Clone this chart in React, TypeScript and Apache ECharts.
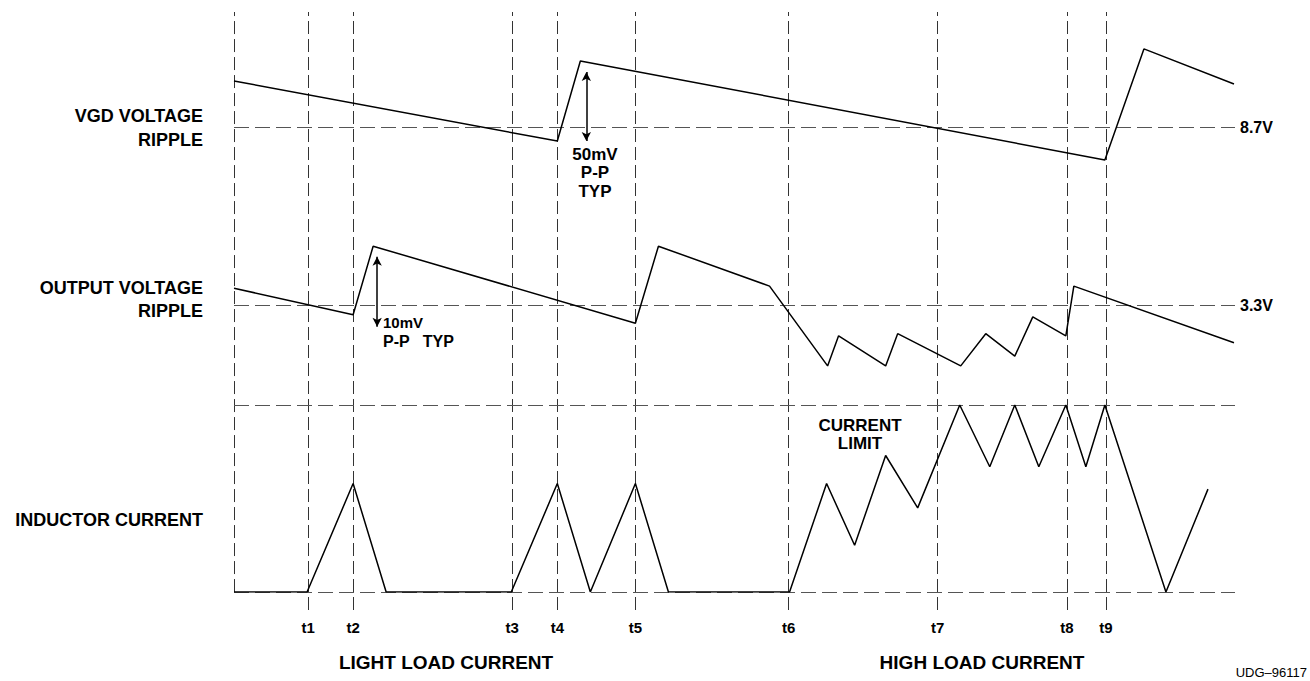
import React, { useEffect, useRef } from "react";
import * as echarts from "echarts";

// time axis in arbitrary units (0 .. 1000)
const tMarks = [74, 119, 278, 323, 401, 554, 703, 832, 871];
const tLabels = ["t1", "t2", "t3", "t4", "t5", "t6", "t7", "t8", "t9"];

// VGD ripple, mV around 8.7 V
const vgdTime = [0, 323, 346, 870, 909, 999];
const vgdRipple = [28.8, -8.8, 41.3, -20.6, 48.8, 26.9];

// Output ripple, mV around 3.3 V
const outTime = [0, 119, 139, 401, 424, 535, 593, 604, 651, 663, 726, 751, 780, 798, 831, 839, 999];
const outRipple = [2.4, -1.4, 8.4, -2.6, 8.4, 2.7, -8.7, -4.4, -8.7, -4.1, -8.7, -4.1, -7.3, -1.7, -4.4, 2.7, -5.4];

// Inductor current, A (current limit = 10)
const indTime = [0, 73, 119, 152, 277, 323, 356, 401, 434, 555, 592, 620, 651, 683, 725, 755, 780, 804, 831, 851, 870, 931, 973];
const indCurrent = [0, 0, 5.8, 0, 0, 5.8, 0, 5.8, 0, 0, 5.8, 2.5, 7.3, 4.5, 10, 6.7, 10, 6.7, 10, 6.7, 10, 0, 5.5];
const currentLimit = 10;

const vgdRefLabel = "8.7V";
const outRefLabel = "3.3V";
const vgdArrow = { t: 352, from: 34.4, to: -8.8 };
const outArrow = { t: 143, from: 6.9, to: -3.1 };

const FONT = '"Liberation Sans", Arial, Helvetica, sans-serif';

function pairs(xs: number[], ys: number[]) {
  return xs.map((x, i) => [x, ys[i]]);
}

export default function App() {
  const ref = useRef<HTMLDivElement>(null);
  useEffect(() => {
    if (!ref.current) return;
    const chart = echarts.init(ref.current, undefined, { renderer: "svg" });
    const hDash = { type: [15, 6] as any, color: "#555", width: 1 };
    const vDash = { type: [13, 5] as any, color: "#333", width: 1 };
    const wave = { color: "#000", width: 1.5 };
    const txt = (text: string, x: number, y: number, size: number, align = "left", weight = "bold") => ({
      type: "text",
      x,
      y,
      silent: true,
      style: {
        text,
        fill: "#000",
        fontSize: size,
        fontWeight: weight,
        fontFamily: FONT,
        align,
        verticalAlign: "middle",
      },
    });
    const arrowLine = (a: { t: number; from: number; to: number }) => [
      { coord: [a.t, a.from], symbol: "arrow", symbolSize: [7, 9], lineStyle: { type: "solid", color: "#000", width: 1.5 } },
      { coord: [a.t, a.to], symbol: "arrow", symbolSize: [7, 9] },
    ];
    const option: any = {
      animation: false,
      grid: [
        { left: 234, width: 1001, top: 31, height: 160 },
        { left: 234, width: 1001, top: 235, height: 140 },
        { left: 234, width: 1001, top: 405, height: 187 },
        { left: 234, width: 1001, top: 12, height: 598 },
      ],
      xAxis: [0, 1, 2, 3].map((g) => ({
        type: "value",
        gridIndex: g,
        min: 0,
        max: 1000,
        show: g === 3,
        axisLine: { show: false },
        axisTick: { show: false },
        splitLine: { show: false },
        axisLabel: {
          show: g === 3,
          customValues: tMarks,
          formatter: (v: number) => tLabels[tMarks.indexOf(v)] ?? "",
          margin: 10,
          fontSize: 15,
          fontWeight: "bold",
          fontFamily: FONT,
          color: "#000",
        },
      })),
      yAxis: [
        { type: "value", gridIndex: 0, min: -40, max: 60, show: false },
        { type: "value", gridIndex: 1, min: -10, max: 10, show: false },
        { type: "value", gridIndex: 2, min: 0, max: currentLimit, show: false },
        { type: "value", gridIndex: 3, min: 0, max: 100, show: false },
      ].map((y) => ({ ...y, splitLine: { show: false } })),
      series: [
        {
          type: "line",
          xAxisIndex: 3,
          yAxisIndex: 3,
          data: [[0, 0]],
          showSymbol: false,
          lineStyle: { opacity: 0 },
          z: 1,
          markLine: {
            silent: true,
            symbol: "none",
            label: { show: false },
            lineStyle: vDash,
            data: [
              ...tMarks.map((t) => ({ xAxis: t })),
              [{ coord: [0, 3] }, { coord: [0, 100] }],
            ],
          },
        },
        {
          name: "VGD VOLTAGE RIPPLE",
          type: "line",
          xAxisIndex: 0,
          yAxisIndex: 0,
          data: pairs(vgdTime, vgdRipple),
          showSymbol: false,
          lineStyle: wave,
          z: 5,
          markLine: {
            silent: true,
            symbol: "none",
            label: { show: false },
            lineStyle: hDash,
            data: [{ yAxis: 0 }, arrowLine(vgdArrow)],
          },
        },
        {
          name: "OUTPUT VOLTAGE RIPPLE",
          type: "line",
          xAxisIndex: 1,
          yAxisIndex: 1,
          data: pairs(outTime, outRipple),
          showSymbol: false,
          lineStyle: wave,
          z: 5,
          markLine: {
            silent: true,
            symbol: "none",
            label: { show: false },
            lineStyle: hDash,
            data: [{ yAxis: 0 }, arrowLine(outArrow)],
          },
        },
        {
          name: "INDUCTOR CURRENT",
          type: "line",
          xAxisIndex: 2,
          yAxisIndex: 2,
          data: pairs(indTime, indCurrent),
          showSymbol: false,
          lineStyle: wave,
          z: 5,
          markLine: {
            silent: true,
            symbol: "none",
            label: { show: false },
            lineStyle: hDash,
            data: [{ yAxis: 0 }, { yAxis: currentLimit }],
          },
        },
      ],
      graphic: [
        txt("VGD VOLTAGE", 203, 116, 18, "right"),
        txt("RIPPLE", 203, 140, 18, "right"),
        txt("OUTPUT VOLTAGE", 203, 288, 18, "right"),
        txt("RIPPLE", 203, 311, 18, "right"),
        txt("INDUCTOR CURRENT", 203, 520, 18, "right"),
        txt(vgdRefLabel, 1240, 127, 16, "left"),
        txt(outRefLabel, 1240, 305, 16, "left"),
        txt("50mV", 595, 154, 17, "center"),
        txt("P-P", 595, 172, 17, "center"),
        txt("TYP", 595, 191, 17, "center"),
        txt("10mV", 383, 322, 15, "left"),
        txt("P-P   TYP", 383, 341, 16, "left"),
        txt("CURRENT", 860, 425, 17, "center"),
        txt("LIMIT", 860, 443, 17, "center"),
        txt("LIGHT LOAD CURRENT", 446, 662, 19, "center"),
        txt("HIGH LOAD CURRENT", 982, 662, 19, "center"),
        txt("UDG\u201396117", 1307, 672, 13, "right", "normal"),
      ],
    };
    chart.setOption(option);
    return () => chart.dispose();
  }, []);
  return (
    <div
      ref={ref}
      style={{ position: "fixed", left: 0, top: 0, width: 1310, height: 681, background: "#fff" }}
    />
  );
}
